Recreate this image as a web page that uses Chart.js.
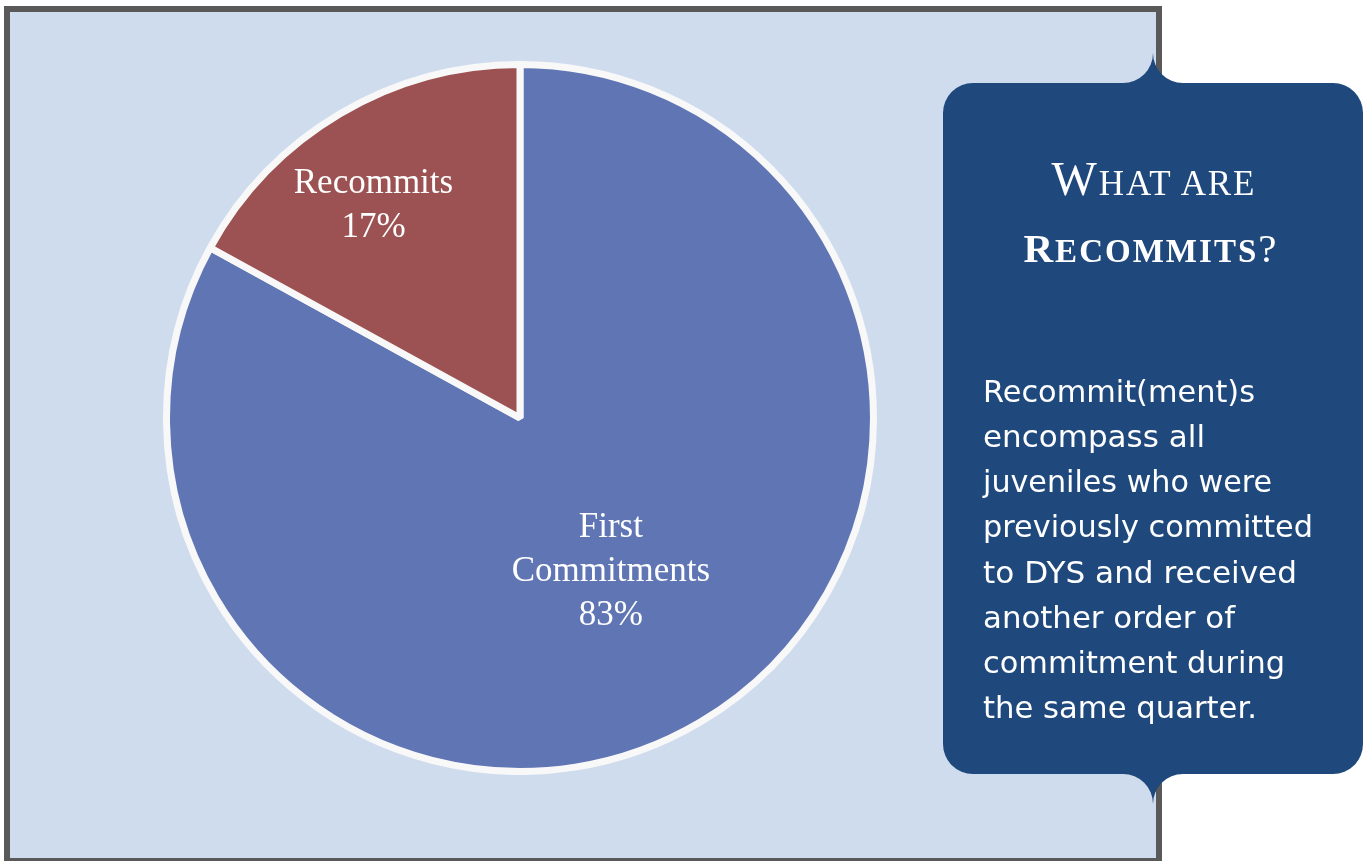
<!DOCTYPE html>
<html>
<head>
<meta charset="utf-8">
<script src="https://cdn.jsdelivr.net/npm/chart.js@4/dist/chart.umd.min.js"></script>
<style>
  html, body { margin:0; padding:0; background:#ffffff; width:1371px; height:861px; overflow:hidden; position:relative; }
  #panel { position:absolute; left:4px; top:6px; width:1158px; height:855px; box-sizing:border-box;
           border:6px solid #595959; border-bottom-width:3px; background:#CFDCEE; }
  #pie { position:absolute; left:163px; top:61px; }
  #callout { position:absolute; left:0; top:0; }
</style>
</head>
<body>
<div id="panel"></div>
<canvas id="pie" width="714" height="714"></canvas>
<svg id="callout" width="1371" height="861" xmlns="http://www.w3.org/2000/svg">
  <path fill="#1F497D" d="M 973 83 L 1123 83 A 30 30 0 0 0 1153 53 L 1153 50 L 1153 53 A 30 30 0 0 0 1183 83 L 1333 83 A 30 30 0 0 1 1363 113 L 1363 744 A 30 30 0 0 1 1333 774 L 1183 774 A 30 30 0 0 0 1153 804 L 1153 808 L 1153 804 A 30 30 0 0 0 1123 774 L 973 774 A 30 30 0 0 1 943 744 L 943 113 A 30 30 0 0 1 973 83 Z"/>
  <g fill="#ffffff" font-family="'Liberation Serif', serif" text-anchor="middle">
    <text x="1153" y="195" textLength="203" lengthAdjust="spacing"><tspan font-size="48">W</tspan><tspan font-size="35">HAT ARE</tspan></text>
    <text x="1150" y="262" font-weight="bold" textLength="253" lengthAdjust="spacing"><tspan font-size="41">R</tspan><tspan font-size="33">ECOMMITS</tspan><tspan font-size="41" font-weight="normal">?</tspan></text>
  </g>
  <g fill="#ffffff" font-family="'DejaVu Sans', sans-serif" font-size="30">
    <text x="983" y="402" textLength="272" lengthAdjust="spacingAndGlyphs">Recommit(ment)s</text>
    <text x="983" y="447" textLength="222" lengthAdjust="spacingAndGlyphs">encompass all</text>
    <text x="983" y="492" textLength="289" lengthAdjust="spacingAndGlyphs">juveniles who were</text>
    <text x="983" y="537" textLength="330" lengthAdjust="spacingAndGlyphs">previously committed</text>
    <text x="983" y="583" textLength="314" lengthAdjust="spacingAndGlyphs">to DYS and received</text>
    <text x="983" y="628" textLength="252" lengthAdjust="spacingAndGlyphs">another order of</text>
    <text x="983" y="673" textLength="302" lengthAdjust="spacingAndGlyphs">commitment during</text>
    <text x="983" y="718" textLength="274" lengthAdjust="spacingAndGlyphs">the same quarter.</text>
  </g>
</svg>
<script>
// ---- data ----
const categories = ['First Commitments', 'Recommits'];
const categoryLabelLines = [['First', 'Commitments'], ['Recommits']];
const values = [83, 17];
const valueLabels = ['83%', '17%'];

const sliceColors = ['#6076B4', '#9C5252'];

const sliceLabelPlugin = {
  id: 'sliceLabels',
  afterDatasetsDraw(chart, args, opts) {
    const ctx = chart.ctx;
    const meta = chart.getDatasetMeta(0);
    ctx.save();
    ctx.fillStyle = opts.color;
    ctx.font = opts.font;
    ctx.textAlign = 'center';
    ctx.textBaseline = 'middle';
    meta.data.forEach((arc, i) => {
      const p = arc.getProps(['x', 'y', 'startAngle', 'endAngle', 'outerRadius'], true);
      const mid = (p.startAngle + p.endAngle) / 2 + (opts.angleOffset[i] || 0) * Math.PI / 180;
      const r = p.outerRadius * opts.radiusFraction[i];
      const cx = p.x + Math.cos(mid) * r;
      const cy = p.y + Math.sin(mid) * r;
      const lines = categoryLabelLines[i].concat([valueLabels[i]]);
      const lh = opts.lineHeight;
      const y0 = cy - (lines.length - 1) * lh / 2;
      lines.forEach((t, k) => ctx.fillText(t, cx, y0 + k * lh));
    });
    ctx.restore();
  }
};

new Chart(document.getElementById('pie'), {
  type: 'pie',
  data: {
    labels: categories,
    datasets: [{
      data: values,
      backgroundColor: sliceColors,
      borderColor: '#F8F8F8',
      borderWidth: 7
    }]
  },
  options: {
    responsive: false,
    animation: false,
    events: [],
    layout: { padding: 0 },
    plugins: {
      legend: { display: false },
      tooltip: { enabled: false },
      sliceLabels: {
        color: '#ffffff',
        font: '35px "Liberation Serif", serif',
        lineHeight: 44,
        radiusFraction: [0.505, 0.73],
        angleOffset: [0, -4]
      }
    }
  },
  plugins: [sliceLabelPlugin]
});
</script>
</body>
</html>
